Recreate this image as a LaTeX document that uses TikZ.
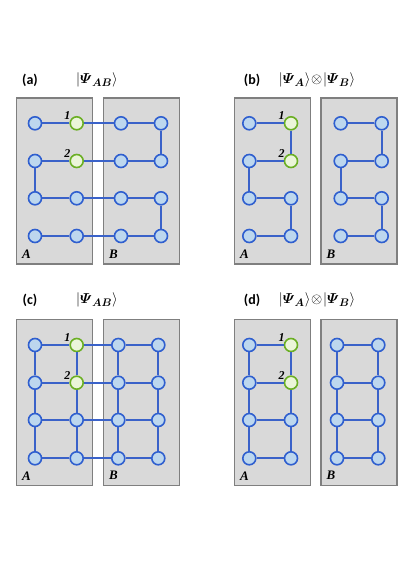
\documentclass[tikz,border=0pt]{standalone}
\usepackage{amsmath}
\usepackage{fontspec}
\setsansfont{Carlito}
\newfontfamily\labelfont{Liberation Serif}
\usetikzlibrary{positioning}
\definecolor{sitefill}{HTML}{BDD7EE}
\definecolor{siteline}{HTML}{2F5FCF}
\definecolor{bondcol}{HTML}{3A62C9}
\definecolor{greenfill}{HTML}{EBF5D9}
\definecolor{greenline}{HTML}{6BAF24}
\definecolor{boxfill}{HTML}{D9D9D9}
\definecolor{boxline}{HTML}{7F7F7F}

\begin{document}
\begin{tikzpicture}[
      x=1pt, y=-1pt,
      site/.style={draw=siteline, fill=sitefill, circle, line width=1.6pt, minimum size=13pt, inner sep=0pt},
      hl12/.style={draw=greenline, fill=greenfill},
      hl22/.style={draw=greenline, fill=greenfill},
      bond/.style={draw=bondcol, line width=1.8pt},
      panel/.style={draw=boxline, fill=boxfill, line width=1.4pt, minimum width=76pt, minimum height=166pt, inner sep=0pt},
      tag/.style={font=\sffamily\bfseries\fontsize{14}{16}\selectfont},
      ket/.style={font=\fontsize{15}{17}\selectfont},
      num/.style={font=\labelfont\bfseries\itshape\fontsize{12}{13}\selectfont, inner sep=0pt},
      side/.style={font=\labelfont\bfseries\itshape\fontsize{13}{14}\selectfont, inner sep=0pt}
    ]
      \useasboundingbox (0,0) rectangle (416,588);

      % boxes
      \node[panel] (aA) at (54.5,181) {};
      \node[panel] (aB) at (141.5,181) {};
      \node[panel] (bA) at (272.5,181) {};
      \node[panel] (bB) at (359,181) {};
      \node[panel] (cA) at (54.5,402.5) {};
      \node[panel] (cB) at (141.5,402.5) {};
      \node[panel] (dA) at (272.5,402.5) {};
      \node[panel] (dB) at (359,402.5) {};
      \foreach \p in {a,b,c,d} {
        \node[side, above right=6pt and 6pt of \p A.south west] (\p Alabel) {A};
        \node[side, above right=6pt and 6pt of \p B.south west] (\p Blabel) {B};
      }

      % sites
      \foreach \r/\y in {1/123.3,2/161,3/198.3,4/236} {
        \foreach \c/\x in {1/35,2/76.7,3/121,4/161}
          \node[site, hl\r\c/.try] (a\r\c) at (\x,\y) {};
        \foreach \c/\x in {1/249.3,2/291,3/340.7,4/381.7}
          \node[site, hl\r\c/.try] (b\r\c) at (\x,\y) {};
      }
      \foreach \r/\y in {1/345,2/382.7,3/420,4/458.3} {
        \foreach \c/\x in {1/35,2/76.7,3/118.3,4/158.3}
          \node[site, hl\r\c/.try] (c\r\c) at (\x,\y) {};
        \foreach \c/\x in {1/249.3,2/291,3/337,4/378.3}
          \node[site, hl\r\c/.try] (d\r\c) at (\x,\y) {};
      }
      \foreach \p in {a,b,c,d} {
        \node[num, above left=-2pt and 1pt of \p12.north west] (\p one) {1};
        \node[num, above left=-2pt and 1pt of \p22.north west] (\p two) {2};
      }

      % bonds
      \draw[bond] (a11) -- (a12) -- (a13) -- (a14) -- (a24) -- (a23) -- (a22) -- (a21)
        -- (a31) -- (a32) -- (a33) -- (a34) -- (a44) -- (a43) -- (a42) -- (a41);
      \draw[bond] (b11) -- (b12) -- (b22) -- (b21) -- (b31) -- (b32) -- (b42) -- (b41);
      \draw[bond] (b13) -- (b14) -- (b24) -- (b23) -- (b33) -- (b34) -- (b44) -- (b43);
      \foreach \r in {1,...,4} {
        \draw[bond] (c\r1) -- (c\r2) -- (c\r3) -- (c\r4);
        \draw[bond] (d\r1) -- (d\r2);
        \draw[bond] (d\r3) -- (d\r4);
      }
      \foreach \c in {1,...,4} {
        \draw[bond] (c1\c) -- (c2\c) -- (c3\c) -- (c4\c);
        \draw[bond] (d1\c) -- (d2\c) -- (d3\c) -- (d4\c);
      }

      % titles
      \node[tag] (atag) at (30,80) {(a)};
      \node[ket] (aket) at (97,80) {$|\boldsymbol{\varPsi}_{\boldsymbol{AB}}\rangle$};
      \node[tag] (btag) at (252,80) {(b)};
      \node[ket] (bket) at (317,80) {$|\boldsymbol{\varPsi}_{\boldsymbol{A}}\rangle\!\otimes\!|\boldsymbol{\varPsi}_{\boldsymbol{B}}\rangle$};
      \node[tag] (ctag) at (30,300) {(c)};
      \node[ket] (cket) at (97,300) {$|\boldsymbol{\varPsi}_{\boldsymbol{AB}}\rangle$};
      \node[tag] (dtag) at (252,300) {(d)};
      \node[ket] (dket) at (317,300) {$|\boldsymbol{\varPsi}_{\boldsymbol{A}}\rangle\!\otimes\!|\boldsymbol{\varPsi}_{\boldsymbol{B}}\rangle$};
  \end{tikzpicture}
\end{document}
